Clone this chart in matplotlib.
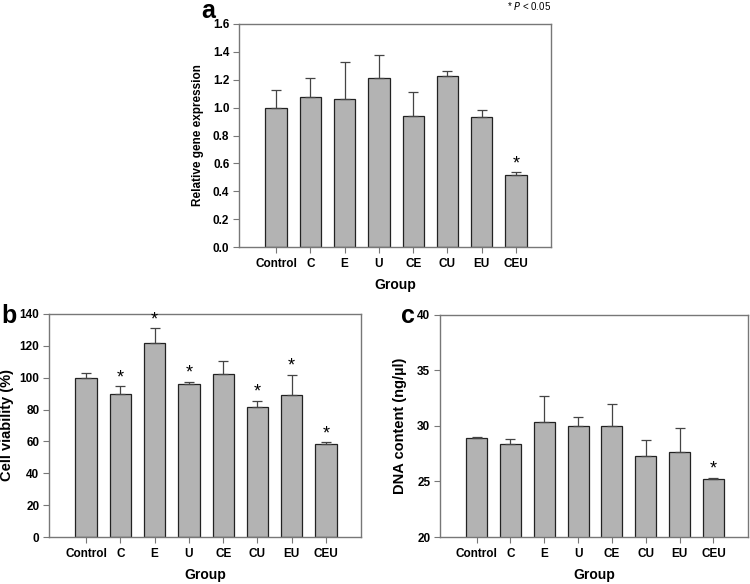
import matplotlib
matplotlib.use("Agg")
import matplotlib.pyplot as plt

plt.rcParams['font.family'] = ['Liberation Sans', 'DejaVu Sans']

groups = ["Control", "C", "E", "U", "CE", "CU", "EU", "CEU"]

gene_mean = [1.00, 1.075, 1.06, 1.21, 0.94, 1.225, 0.935, 0.515]
gene_err = [0.13, 0.14, 0.27, 0.17, 0.17, 0.035, 0.045, 0.02]
gene_sig = [False, False, False, False, False, False, False, True]

viab_mean = [100.0, 89.5, 121.5, 95.8, 102.5, 81.5, 89.0, 58.5]
viab_err = [3.0, 5.0, 9.5, 1.7, 8.0, 4.0, 13.0, 1.0]
viab_sig = [False, True, True, True, False, True, True, True]

dna_mean = [28.9, 28.4, 30.35, 30.0, 30.0, 27.3, 27.65, 25.2]
dna_err = [0.15, 0.45, 2.35, 0.85, 1.95, 1.4, 2.2, 0.15]
dna_sig = [False, False, False, False, False, False, False, True]

W, H = 750, 584
fig = plt.figure(figsize=(7.5, 5.84), dpi=100)

def ax_rect(x0, y0, x1, y1):
    return [x0 / W, 1 - y1 / H, (x1 - x0) / W, (y1 - y0) / H]

bar_color = "#b3b3b3"
edge_color = "#222222"

def panel(rect, means, errs, sig, ylim, yticks, yfmt, ylabel, ylabel_size, ylabelpad):
    ax = fig.add_axes(ax_rect(*rect))
    x = list(range(len(groups)))
    ax.bar(x, means, width=0.62, color=bar_color, edgecolor=edge_color, linewidth=0.9,
           bottom=0, zorder=2)
    ax.errorbar(x, means, yerr=[[0] * len(errs), errs], fmt='none', ecolor="#444444",
                elinewidth=0.9, capsize=3.5, capthick=0.9, zorder=3)
    for xi, m, e, s in zip(x, means, errs, sig):
        if s:
            ax.text(xi, m + e, "*", ha='center', va='bottom', fontsize=13, zorder=4)
    ax.set_xlim(-1.08, 8.02)
    ax.set_ylim(*ylim)
    ax.set_yticks(yticks)
    ax.set_yticklabels([yfmt.format(v) for v in yticks], fontsize=8.5, fontweight='bold')
    ax.set_xticks(x)
    ax.set_xticklabels(groups, fontsize=8.5, fontweight='bold')
    ax.tick_params(axis='x', length=4, width=0.8, color="#777777", pad=4)
    ax.tick_params(axis='y', length=4, width=0.8, color="#777777", pad=3)
    for sp in ax.spines.values():
        sp.set_color("#777777")
        sp.set_linewidth(1.0)
    ax.set_xlabel("Group", fontsize=10, fontweight='bold', labelpad=6)
    ax.set_ylabel(ylabel, fontsize=ylabel_size, fontweight='bold', labelpad=ylabelpad)
    return ax

# panel a
panel((239, 24, 551, 247), gene_mean, gene_err, gene_sig, (0, 1.6),
      [0.0, 0.2, 0.4, 0.6, 0.8, 1.0, 1.2, 1.4, 1.6], "{:.1f}",
      "Relative gene expression", 8.5, 6)
# panel b
panel((49, 314, 361, 537), viab_mean, viab_err, viab_sig, (0, 140),
      [0, 20, 40, 60, 80, 100, 120, 140], "{:d}",
      "Cell viability (%)", 10.5, 4)
# panel c
panel((440, 315, 748, 537), dna_mean, dna_err, dna_sig, (20, 40),
      [20, 25, 30, 35, 40], "{:d}",
      "DNA content (ng/\u00b5l)", 10.5, 7)

fig.text(201 / W, 1 - 11 / H, "a", fontsize=18, fontweight='bold', va='center', ha='left')
fig.text(1 / W, 1 - 316 / H, "b", fontsize=18, fontweight='bold', va='center', ha='left')
fig.text(401 / W, 1 - 316 / H, "c", fontsize=18, fontweight='bold', va='center', ha='left')
fig.text(551 / W, 1 - 6 / H, "* $\\it{P}$ < 0.05", fontsize=7, va='center', ha='right')

fig.savefig("out.png", dpi=100)
